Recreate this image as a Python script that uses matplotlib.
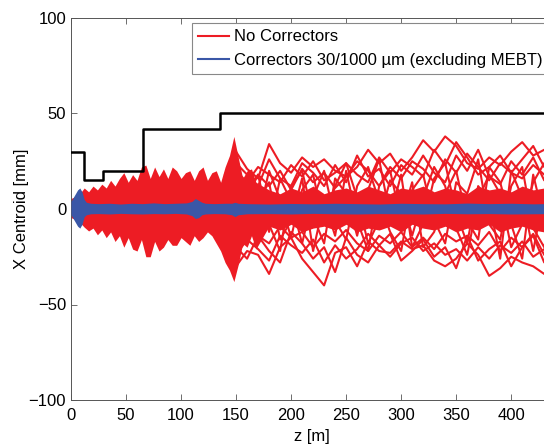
#X centroid along the linac, with and without correctors
import matplotlib
matplotlib.use('Agg')
import matplotlib.pyplot as plt

plt.rcParams['font.family'] = ['Liberation Sans', 'DejaVu Sans']
plt.rcParams['font.size'] = 12

red = '#ed1c24'
blue = '#3a57a7'

#aperture (black step line)
aper_z = [0, 12, 12, 29, 29, 65, 65, 135.5, 135.5, 460]
aper_y = [30, 30, 15, 15, 20, 20, 42, 42, 50, 50]

#dense red region, upper / lower envelope
core_z = [0, 4, 8, 12, 16, 20, 24, 28, 32, 36, 40, 44, 48, 52, 56, 60, 64, 68, 72, 76,
          80, 84, 88, 92, 96, 100, 104, 108, 112, 116, 120, 124, 128, 132, 136, 140,
          144, 148, 152, 156, 160, 164, 168,
          180, 190, 200, 210, 220, 230, 240, 250, 260, 270, 280, 290, 300, 310, 320,
          330, 340, 350, 360, 370, 380, 390, 400, 410, 420, 430, 440]
core_hi = [5.5, 6.5, 8, 11, 9, 12, 10, 13, 11, 15, 12, 16, 19, 14, 18, 15, 22, 23, 16, 22,
           17, 21, 16, 22, 20, 16, 19, 20, 15, 20, 22, 15, 19, 20, 14, 22, 28, 38, 27,
           16, 20, 21, 14,
           10, 8, 11, 9, 12, 8, 10, 11, 9, 12, 10, 8, 11, 10, 12, 9, 11, 10, 8, 12, 10,
           11, 9, 12, 10, 11, 9]
core_lo = [-4.5, -5.5, -7, -9.5, -11.5, -10, -13.5, -11, -15, -12, -17, -14, -20, -15,
           -21, -22, -16, -25, -25, -17, -22, -20, -16, -19, -19, -15, -17, -19, -14, -17,
           -15, -12, -14, -18, -22, -28, -32, -38, -29, -18, -20, -14, -21,
           -9, -11, -8, -12, -10, -9, -11, -8, -12, -10, -11, -9, -12, -8, -10, -11, -9,
           -12, -10, -11, -8, -12, -10, -9, -11, -12, -10]

#individual red orbits that stand out after ~140 m
trace_z = [140, 150, 160, 170, 180, 190, 200, 210, 220, 230, 240, 250, 260, 270, 280,
           290, 300, 310, 320, 330, 340, 350, 360, 370, 380, 390, 400, 410, 420, 430, 440]
red_u1 = [18, 30, 21, 16, 34, 24, 19, 27, 22, 26, 20, 17, 22, 31, 24, 29, 20, 27, 36, 30,
          38, 33, 24, 21, 27, 23, 30, 35, 28, 31, 26]
red_u2 = [12, 20, 14, 22, 18, 14, 23, 17, 25, 15, 19, 24, 18, 14, 27, 19, 26, 22, 17, 31,
          23, 35, 27, 18, 22, 28, 19, 26, 33, 22, 29]
red_u3 = [6, 14, 9, 18, 12, 20, 10, 21, 14, 19, 11, 17, 25, 20, 12, 22, 16, 25, 21, 14,
          26, 19, 29, 22, 15, 24, 19, 16, 23, 18, 25]
red_u4 = [10, 24, 18, 12, 26, 16, 12, 24, 19, 12, 23, 14, 28, 17, 21, 12, 23, 18, 28, 19,
          14, 28, 20, 31, 17, 13, 25, 18, 27, 15, 30]
red_l1 = [-18, -30, -22, -24, -34, -20, -15, -26, -33, -40, -23, -20, -30, -17, -22, -23,
          -17, -21, -19, -27, -30, -26, -18, -24, -35, -31, -25, -28, -30, -34, -29]
red_l2 = [-12, -24, -16, -21, -27, -14, -19, -23, -16, -28, -19, -26, -21, -13, -19, -25,
          -18, -15, -22, -18, -24, -21, -27, -20, -26, -19, -23, -17, -25, -21, -31]
red_l3 = [-6, -15, -10, -14, -18, -9, -15, -12, -20, -13, -17, -11, -18, -22, -14, -18,
          -12, -20, -15, -21, -13, -17, -14, -19, -12, -22, -15, -20, -13, -24, -16]
red_l4 = [-10, -20, -26, -14, -22, -28, -12, -18, -26, -20, -33, -15, -24, -28, -19, -13,
          -27, -22, -16, -25, -20, -31, -14, -27, -21, -17, -30, -20, -14, -28, -24]
red_c1 = [8, -12, 14, -5, 20, 5, -15, 10, 18, -8, 12, 24, 6, -18, -6, 15, 8, -14, 6, 22,
          12, -10, -24, 5, 18, 8, -20, -8, 14, 24, 10]
red_c2 = [-4, 10, -8, 12, -12, 16, 4, -18, 6, 20, -6, -16, 12, 22, 4, -12, -22, 10, 18,
          -6, -18, 14, 8, 26, -8, -16, 12, 22, -10, -20, 6]
red_c3 = [14, -20, 6, 18, -8, -22, 12, 20, -4, -18, 16, 8, -14, 10, 26, -4, 18, -20, -8,
          16, 24, -2, -18, 12, 4, -26, 20, 6, -22, 8, -14]
red_c4 = [-10, 16, -14, 4, 14, -16, -6, 16, -22, 4, -14, 20, -6, -22, 12, 20, -6, 14, -20,
          -12, 8, 20, -6, -16, 22, 14, -8, -26, 18, -6, 20]
red_traces = [red_u1, red_u2, red_u3, red_u4, red_l1, red_l2, red_l3, red_l4,
              red_c1, red_c2, red_c3, red_c4]

#blue band (correctors on)
blue_z = [0, 2, 4, 6, 8, 10, 12, 14, 18, 25, 35, 45, 55, 65, 75, 85, 95, 105, 110, 113,
          116, 119, 122, 130, 140, 146, 149, 152, 160, 180, 200, 220, 240, 260, 280,
          300, 320, 340, 360, 380, 400, 420, 440]
blue_hi = [4, 6, 8, 10, 11, 9, 5, 3.5, 3, 2.8, 3, 2.6, 3, 2.8, 3.2, 2.8, 3, 3.2, 4, 5.5,
           4.5, 3.5, 3, 2.8, 3, 3, 3.5, 3, 2.8, 2.6, 2.9, 2.7, 3, 2.8, 2.6, 3, 2.8,
           2.7, 3.1, 2.8, 3, 2.7, 2.9]
blue_lo = [-3, -5, -7, -9, -10, -8, -4, -3, -2.5, -2.4, -2.6, -2.3, -2.5, -2.6, -2.4,
           -2.5, -2.3, -2.6, -3.5, -5, -4.5, -3, -2.6, -2.4, -2.5, -3, -4, -3, -2.5,
           -2.4, -2.6, -2.3, -2.5, -2.6, -2.4, -2.5, -2.6, -2.3, -2.5, -2.4, -2.6,
           -2.5, -2.4]

fig = plt.figure(figsize=(5.44, 4.45), dpi=100)
ax = fig.add_axes([71 / 544, 45 / 445, 482 / 544, 382 / 445])

ax.fill_between(core_z, core_lo, core_hi, color=red, lw=0, zorder=1)
for tr in red_traces:
    ax.plot(trace_z, tr, color=red, lw=1.5, zorder=2)
ax.plot([], [], color=red, lw=1.5, label='No Correctors')

ax.fill_between(blue_z, blue_lo, blue_hi, color=blue, lw=0, zorder=3)
ax.plot([], [], color=blue, lw=1.5, label='Correctors 30/1000 \u00b5m (excluding MEBT)')

ax.plot(aper_z, aper_y, color='black', lw=1.8, zorder=4)

ax.set_xlim(0, 438)
ax.set_ylim(-100, 100)
ax.set_xticks([0, 50, 100, 150, 200, 250, 300, 350, 400])
ax.set_yticks([-100, -50, 0, 50, 100])
ax.tick_params(direction='in', length=4, top=True, right=True, width=0.6, colors='#555555',
               labelcolor='black', labelsize=12)
ax.tick_params(axis='x', pad=6)
for s in ax.spines.values():
    s.set_color('#555555')
    s.set_linewidth(0.7)
ax.set_xlabel('z [m]', fontsize=12, labelpad=4)
ax.set_ylabel('X Centroid [mm]', fontsize=12, labelpad=0)

leg = ax.legend(loc='upper left', bbox_to_anchor=(191.7 / 544, 1 - 22.7 / 445),
                bbox_transform=fig.transFigure, borderaxespad=0, fancybox=False,
                handlelength=1.85, handletextpad=0.3, fontsize=12, framealpha=1)
leg.get_frame().set_edgecolor('#888888')
leg.get_frame().set_linewidth(0.8)

fig.savefig('out.png', dpi=100)
